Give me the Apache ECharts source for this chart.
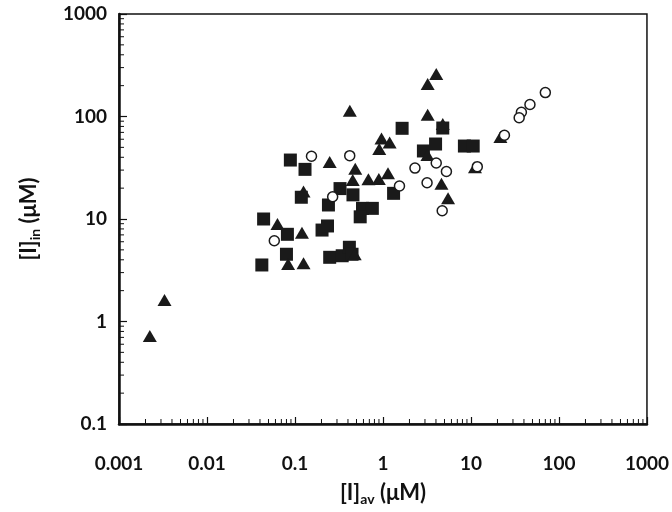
<!DOCTYPE html>
<html>
<head>
<meta charset="utf-8">
<script src="https://cdn.jsdelivr.net/npm/echarts@6/dist/echarts.min.js"></script>
<style>html,body{margin:0;padding:0;background:#fff}#c{width:672px;height:512px}</style>
</head>
<body>
<div id="c"></div>
<script>
// ---- Data ----
const xTickLabels = ['0.001', '0.01', '0.1', '1', '10', '100', '1000'];
const yTickLabels = ['0.1', '1', '10', '100', '1000'];

const squareX = [0.0886, 0.13, 0.118, 0.325, 0.24, 0.456, 0.044, 0.082, 0.203, 0.234, 0.08, 0.042, 0.248, 0.344, 0.415, 0.445, 1.65, 4.78, 3.96, 2.88, 8.42, 10.6, 1.32, 0.585, 0.757, 0.551];
const squareY = [37.6, 30.5, 16.3, 19.8, 13.7, 17.2, 10.0, 7.09, 7.8, 8.55, 4.53, 3.56, 4.23, 4.38, 5.3, 4.53, 76.7, 77.2, 53.9, 46.1, 51.5, 51.5, 17.8, 12.7, 12.7, 10.5];

const triangleX = [0.00224, 0.00329, 0.42, 4.03, 3.22, 3.22, 0.962, 1.19, 0.907, 0.248, 0.484, 0.453, 0.683, 0.897, 1.14, 4.62, 5.49, 11.1, 21.6, 0.477, 3.2, 0.125, 0.0632, 0.12, 0.0835, 0.125, 4.78];
const triangleY = [0.72, 1.62, 114, 260, 207, 104, 61, 55.9, 48.2, 36, 31, 24, 24.4, 24.5, 27.9, 22.1, 15.9, 31.9, 63.1, 4.53, 42.1, 18.5, 8.94, 7.35, 3.64, 3.70, 84.5];

const circleX = [0.154, 0.419, 0.268, 0.0582, 1.54, 2.31, 4.03, 5.26, 3.17, 4.71, 11.8, 24, 70, 46.8, 37.4, 35.3];
const circleY = [40.9, 41.5, 16.5, 6.14, 21, 31.4, 35.2, 29.1, 22.6, 12.05, 32.4, 65.6, 171, 131, 110, 97.3];

const xMin = 0.001, xMax = 1000, yMin = 0.1, yMax = 1000;
const minorMultipliers = [2, 3, 4, 5, 6, 7, 8, 9];

// ---- Build ----
const zip = (a, b) => a.map((v, i) => [v, b[i]]);
const xMinor = [], yMinor = [];
for (let d = xMin; d < xMax; d *= 10) minorMultipliers.forEach(m => xMinor.push([+(d * m).toPrecision(3), yMin]));
for (let d = yMin; d < yMax; d *= 10) minorMultipliers.forEach(m => yMinor.push([xMin, +(d * m).toPrecision(3)]));

const FONT = 'Lato';
const TXT = '#111';
const nameRich = {
  a: {fontFamily: FONT, fontWeight: 'bold', fontSize: 22, color: TXT, lineHeight: 26},
  s: {fontFamily: FONT, fontWeight: 'bold', fontSize: 14, color: TXT, lineHeight: 14, verticalAlign: 'bottom'}
};
const chart = echarts.init(document.getElementById('c'), null, {renderer: 'canvas'});
chart.setOption({
  animation: false,
  grid: {left: 119, right: 17, top: 14, bottom: 88, show: true, borderColor: '#111', borderWidth: 1.5, backgroundColor: 'transparent'},
  xAxis: {
    type: 'log', logBase: 10, min: xMin, max: xMax, splitNumber: 6,
    axisLine: {lineStyle: {color: '#111', width: 2.5}},
    axisTick: {inside: true, length: 7, lineStyle: {color: '#111', width: 1.2}},
    splitLine: {show: false},
    axisLabel: {margin: 30, color: TXT, fontFamily: FONT, fontWeight: 'bold', fontSize: 19,
      formatter: (v, i) => xTickLabels[i] !== undefined ? xTickLabels[i] : ''},
    name: '{a|[I]}{s|av}{a| (μM)}', nameLocation: 'middle', nameGap: 56,
    nameTextStyle: {rich: nameRich}
  },
  yAxis: {
    type: 'log', logBase: 10, min: yMin, max: yMax, splitNumber: 4,
    axisLine: {lineStyle: {color: '#111', width: 2.5}},
    axisTick: {inside: true, length: 8, lineStyle: {color: '#111', width: 1.2}},
    splitLine: {show: false},
    axisLabel: {margin: 12, color: TXT, fontFamily: FONT, fontWeight: 'bold', fontSize: 19,
      formatter: (v, i) => yTickLabels[i] !== undefined ? yTickLabels[i] : ''},
    name: '{a|[I]}{s|in}{a| (μM)}', nameLocation: 'middle', nameGap: 77, nameRotate: 90,
    nameTextStyle: {rich: nameRich}
  },
  series: [
    {type: 'custom', data: xMinor, clip: false, silent: true, z: 1,
      renderItem: (p, api) => { const c = api.coord([api.value(0), api.value(1)]);
        return {type: 'line', shape: {x1: c[0], y1: c[1], x2: c[0], y2: c[1] - 5}, style: {stroke: '#111', lineWidth: 1}}; }},
    {type: 'custom', data: yMinor, clip: false, silent: true, z: 1,
      renderItem: (p, api) => { const c = api.coord([api.value(0), api.value(1)]);
        return {type: 'line', shape: {x1: c[0], y1: c[1], x2: c[0] + 5, y2: c[1]}, style: {stroke: '#111', lineWidth: 1}}; }},
    {name: 'square', type: 'scatter', symbol: 'rect', symbolSize: 13, z: 2,
      itemStyle: {color: '#1a1a1a', opacity: 1}, data: zip(squareX, squareY)},
    {name: 'triangle', type: 'scatter', symbol: 'triangle', symbolSize: [14, 12], z: 3,
      itemStyle: {color: '#1a1a1a', opacity: 1}, data: zip(triangleX, triangleY)},
    {name: 'circle', type: 'scatter', symbol: 'circle', symbolSize: 10, z: 4,
      itemStyle: {color: '#fff', borderColor: '#1a1a1a', borderWidth: 1.5, opacity: 1}, data: zip(circleX, circleY)}
  ]
});
</script>
</body>
</html>
